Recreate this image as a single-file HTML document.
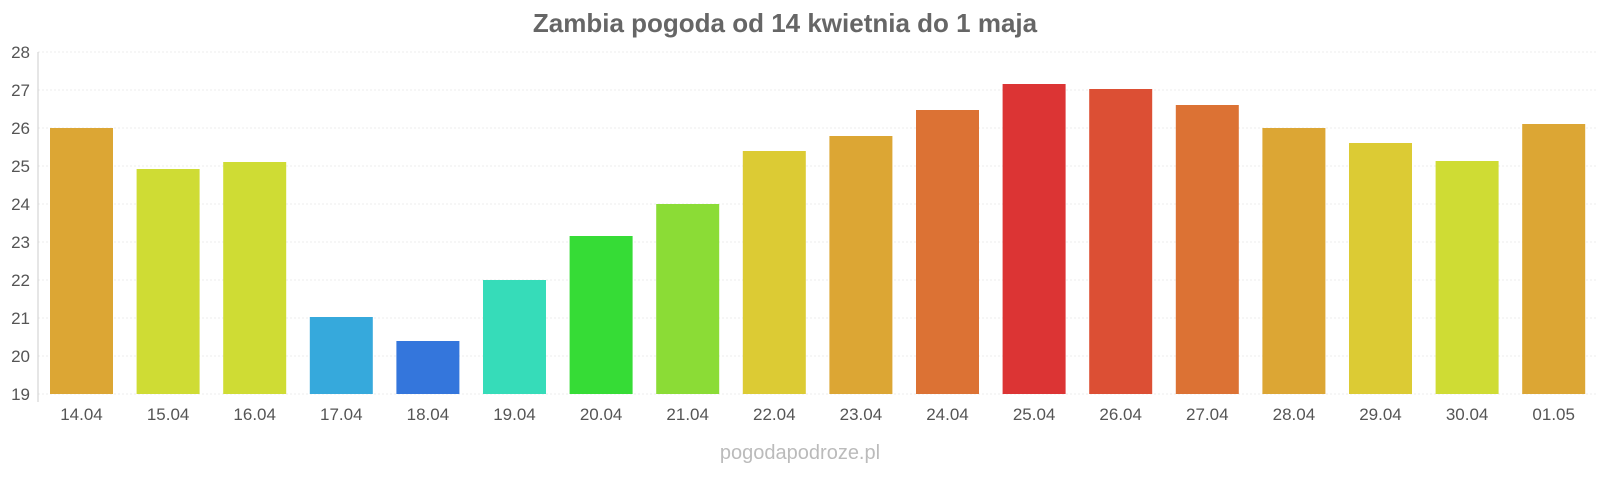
<!DOCTYPE html><html><head><style>html,body{margin:0;padding:0;background:#fff;width:1600px;height:480px;overflow:hidden}svg{display:block;position:absolute;left:0;top:0}svg text{font-family:"Liberation Sans",sans-serif}</style></head><body>
<svg width="1600" height="480" viewBox="0 0 1600 480" xmlns="http://www.w3.org/2000/svg">
<text x="785" y="32" text-anchor="middle" font-size="26" font-weight="bold" fill="#666">Zambia pogoda od 14 kwietnia do 1 maja</text>
<g stroke="#eee" stroke-dasharray="2,2">
<line x1="38" x2="1596" y1="52" y2="52"/><line x1="38" x2="1596" y1="90" y2="90"/><line x1="38" x2="1596" y1="128" y2="128"/><line x1="38" x2="1596" y1="166" y2="166"/><line x1="38" x2="1596" y1="204" y2="204"/><line x1="38" x2="1596" y1="242" y2="242"/><line x1="38" x2="1596" y1="280" y2="280"/><line x1="38" x2="1596" y1="318" y2="318"/><line x1="38" x2="1596" y1="356" y2="356"/><line x1="38" x2="1596" y1="394" y2="394"/>
</g>
<g font-size="17" fill="#555" text-anchor="end">
<text x="30" y="58">28</text><text x="30" y="96">27</text><text x="30" y="134">26</text><text x="30" y="172">25</text><text x="30" y="210">24</text><text x="30" y="248">23</text><text x="30" y="286">22</text><text x="30" y="324">21</text><text x="30" y="362">20</text><text x="30" y="400">19</text>
</g>
<line x1="38" y1="52" x2="38" y2="402" stroke="#ccc"/>
<g>
<rect x="50" y="128" width="63" height="266" fill="#dca634"/>
<rect x="136.6" y="169" width="63" height="225" fill="#cfdc34"/>
<rect x="223.2" y="162" width="63" height="232" fill="#cfdc34"/>
<rect x="309.8" y="317" width="63" height="77" fill="#36a9dc"/>
<rect x="396.4" y="341" width="63" height="53" fill="#3476dc"/>
<rect x="483" y="280" width="63" height="114" fill="#36dcb9"/>
<rect x="569.6" y="236" width="63" height="158" fill="#36dc36"/>
<rect x="656.2" y="204" width="63" height="190" fill="#8bdc36"/>
<rect x="742.8" y="151" width="63" height="243" fill="#dccb34"/>
<rect x="829.4" y="136" width="63" height="258" fill="#dca634"/>
<rect x="916" y="110" width="63" height="284" fill="#dc7234"/>
<rect x="1002.6" y="84" width="63" height="310" fill="#dc3434"/>
<rect x="1089.2" y="89" width="63" height="305" fill="#dc4f34"/>
<rect x="1175.8" y="105" width="63" height="289" fill="#dc7234"/>
<rect x="1262.4" y="128" width="63" height="266" fill="#dca634"/>
<rect x="1349" y="143" width="63" height="251" fill="#dccb34"/>
<rect x="1435.6" y="161" width="63" height="233" fill="#cfdc34"/>
<rect x="1522.2" y="124" width="63" height="270" fill="#dca634"/>
</g>
<g font-size="17" fill="#555" text-anchor="middle">
<text x="81.5" y="420">14.04</text><text x="168.1" y="420">15.04</text><text x="254.7" y="420">16.04</text><text x="341.3" y="420">17.04</text><text x="427.9" y="420">18.04</text><text x="514.5" y="420">19.04</text><text x="601.1" y="420">20.04</text><text x="687.7" y="420">21.04</text><text x="774.3" y="420">22.04</text><text x="860.9" y="420">23.04</text><text x="947.5" y="420">24.04</text><text x="1034.1" y="420">25.04</text><text x="1120.7" y="420">26.04</text><text x="1207.3" y="420">27.04</text><text x="1293.9" y="420">28.04</text><text x="1380.5" y="420">29.04</text><text x="1467.1" y="420">30.04</text><text x="1553.7" y="420">01.05</text>
</g>
<text x="800" y="459" text-anchor="middle" font-size="20" fill="#bbb">pogodapodroze.pl</text>
</svg></body></html>
